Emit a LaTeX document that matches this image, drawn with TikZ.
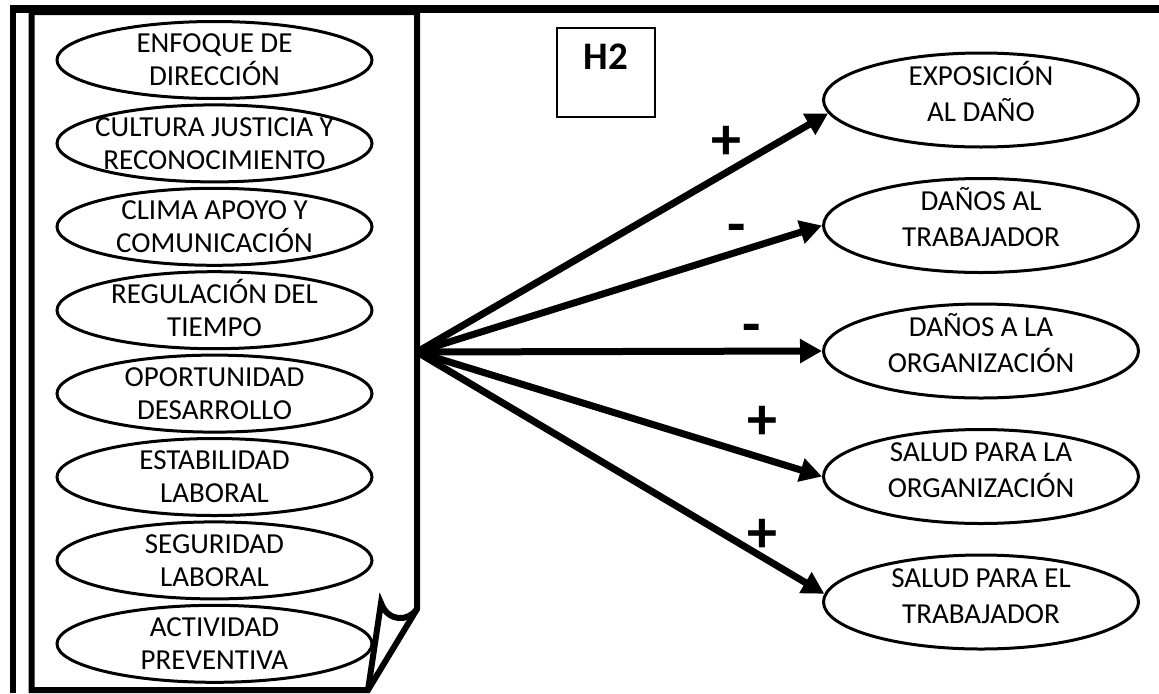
\documentclass[tikz,border=0pt]{standalone}
\usepackage{fontspec}
\setmainfont{Carlito}
\usepackage{tikz}
\usetikzlibrary{calc,arrows.meta,shapes.geometric}

\begin{document}
\begin{tikzpicture}[x=0.5pt,y=0.5pt,
    factor/.style={ellipse,draw,line width=1.5pt,inner xsep=-30pt,inner ysep=0pt,
      minimum width=157.5pt,minimum height=38.5pt,align=center,
      font=\fontsize{14.5}{16.5}\selectfont,text height=25.8pt,text depth=0pt},
    outcome/.style={ellipse,draw,line width=1.5pt,inner xsep=-30pt,inner ysep=0pt,
      minimum width=157.5pt,minimum height=47pt,align=center,
      font=\fontsize{14.5}{18}\selectfont,text height=27pt,text depth=6pt},
    effect/.style={line width=3.5pt,-{Triangle[length=11pt,width=11.5pt]}},
    sign/.style={font=\bfseries\fontsize{30}{30}\selectfont,inner sep=0pt},
    frame/.style={line width=3pt,line join=miter}]
  \useasboundingbox (0,0) rectangle (1159,693);
  % page frame
  \draw[line width=4pt] (10,684) -- (1159,684);
  \draw[line width=3pt] (13,0) -- (13,684);
  \draw[frame] (368,3) -- (31.5,3) -- (31.5,681) -- (417,681) -- (417,84) -- cycle;
  \draw[frame] (417,84) .. controls (408,71) and (388,71) .. (381,90) -- (368,3);
  % hypothesis box
  \node[draw,line width=0.75pt,inner sep=0pt,minimum width=49pt,minimum height=44.5pt,
    font=\bfseries\fontsize{19.5}{19.5}\selectfont,text height=13pt,text depth=15.9pt]
    (h2) at (606,620.5) {H2};
  % factors
  \foreach \i/\t in {0/{ENFOQUE DE\\DIRECCIÓN},1/{CULTURA JUSTICIA Y\\RECONOCIMIENTO},
      2/{CLIMA APOYO Y\\COMUNICACIÓN},3/{REGULACIÓN DEL\\TIEMPO},
      4/{OPORTUNIDAD\\DESARROLLO},5/{ESTABILIDAD\\LABORAL},
      6/{SEGURIDAD\\LABORAL},7/{ACTIVIDAD\\PREVENTIVA}}
    \node[factor] (f\i) at (214.5,{633-83.4*\i}) {\t};
  % outcomes
  \node[outcome] (expo)  at (981,593)   {EXPOSICIÓN\\AL DAÑO};
  \node[outcome] (dtrab) at (981,467.5) {DAÑOS AL\\TRABAJADOR};
  \node[outcome] (dorg)  at (981,342)   {DAÑOS A LA\\ORGANIZACIÓN};
  \node[outcome] (sorg)  at (981,216.5) {SALUD PARA LA\\ORGANIZACIÓN};
  \node[outcome] (strab) at (981,91)    {SALUD PARA EL\\TRABAJADOR};
  % effects
  \coordinate (hub) at (417,341);
  \foreach \o in {expo.185,dtrab.west,dorg.west,sorg.west,strab.177}
    \draw[effect] (hub) -- (\o);
  % signs
  \node[sign] (s1) at (726,550) {+};
  \node[sign] (s2) at (737,459) {-};
  \node[sign] (s3) at (752,359) {-};
  \node[sign] (s4) at (762,270) {+};
  \node[sign] (s5) at (762,157) {+};
\end{tikzpicture}
\end{document}
